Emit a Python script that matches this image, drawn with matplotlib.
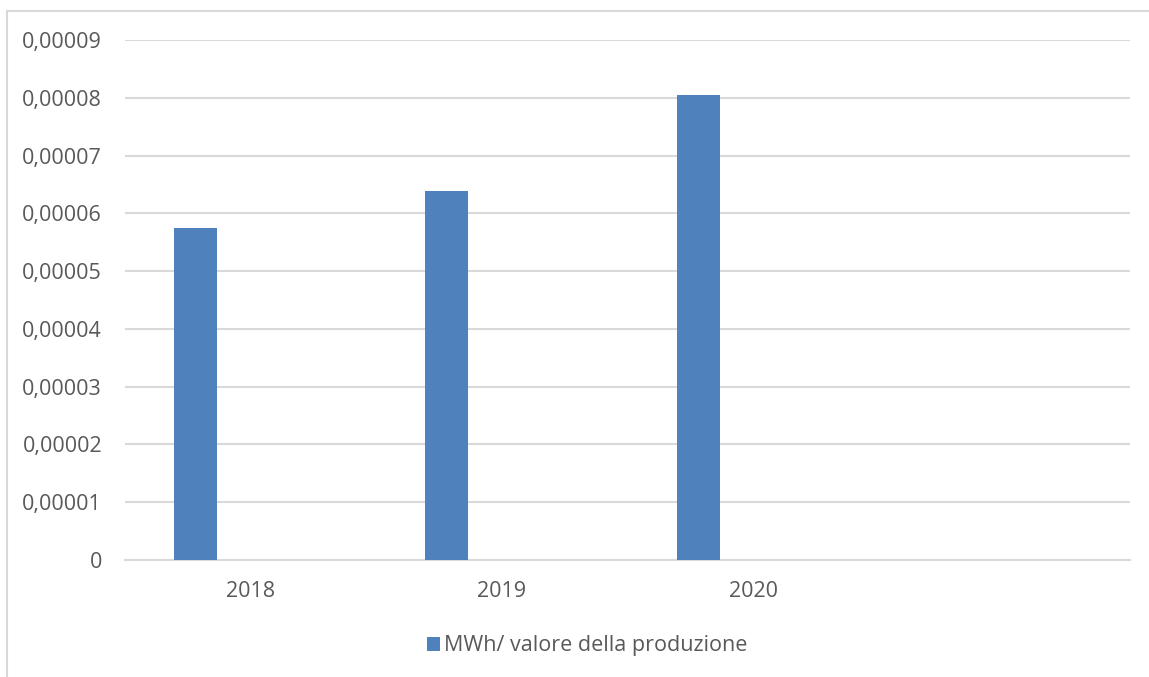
import matplotlib.pyplot as plt
from matplotlib.lines import Line2D
from matplotlib.ticker import FuncFormatter

categories = ["2018", "2019", "2020", ""]
values = [0.0000574, 0.0000639, 0.0000804, 0.0]
series_name = "MWh/ valore della produzione"
y_ticks = [0, 0.00001, 0.00002, 0.00003, 0.00004, 0.00005, 0.00006, 0.00007, 0.00008, 0.00009]

bar_color = "#4f81bd"
text_color = "#595959"
grid_color = "#d9d9d9"

plt.rcParams.update({'font.family': ['Open Sans', 'DejaVu Sans'], 'font.size': 15.5})

fig = plt.figure(figsize=(11.49, 6.77), dpi=100)
W, H = 1149, 677

# outer chart frame (only top and left edges visible in the crop)
fig.add_artist(Line2D([7 / W, 7 / W], [0, 1 - 10.5 / H], color=grid_color, lw=1.5))
fig.add_artist(Line2D([7 / W, 1], [1 - 10.5 / H, 1 - 10.5 / H], color=grid_color, lw=1.5))

ax = fig.add_axes([125 / W, 1 - 560 / H, (1130 - 125) / W, (560 - 40) / H])

x = list(range(len(categories)))
bar_pos = [i - 0.219 for i in x]
bars = ax.bar(bar_pos, values, width=0.171, color=bar_color, zorder=3, label=series_name)

ax.set_xlim(-0.5, len(categories) - 0.5)
ax.set_ylim(0, 0.00009)
ax.set_yticks(y_ticks)
ax.yaxis.set_major_formatter(FuncFormatter(lambda v, p: "0" if v == 0 else f"{v:.5f}".replace(".", ",")))
ax.set_xticks(x)
ax.set_xticklabels(categories)

ax.grid(axis="y", color=grid_color, lw=1.5, zorder=0)
for s in ["top", "right", "left"]:
    ax.spines[s].set_visible(False)
ax.spines["bottom"].set_color(grid_color)
ax.spines["bottom"].set_linewidth(1.5)
ax.tick_params(axis="both", length=0, colors=text_color, labelsize=15.5)
ax.tick_params(axis="y", pad=16.5)
ax.tick_params(axis="x", pad=15)

fig.legend(handles=[bars], labels=[series_name], loc="center", bbox_to_anchor=(587 / W, 1 - 646 / H),
           frameon=False, handlelength=0.6, handleheight=0.6, handletextpad=0.2,
           labelcolor=text_color, fontsize=15.5)

fig.savefig("out.png", dpi=100)
